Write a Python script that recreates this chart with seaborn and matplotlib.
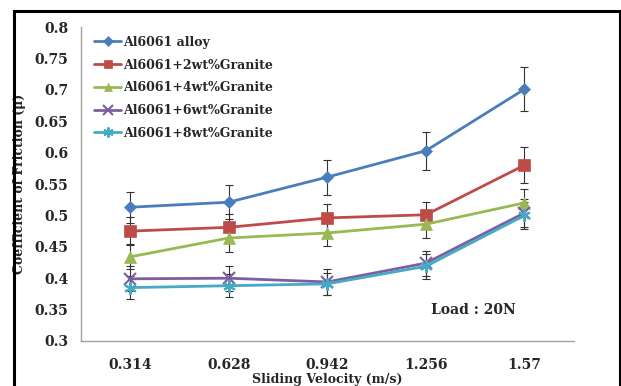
import matplotlib
matplotlib.use("Agg")
import matplotlib.pyplot as plt
import seaborn as sns
import pandas as pd
import numpy as np
from matplotlib.patches import Rectangle

velocities = ["0.314", "0.628", "0.942", "1.256", "1.57"]
series_names = ["Al6061 alloy", "Al6061+2wt%Granite", "Al6061+4wt%Granite",
                "Al6061+6wt%Granite", "Al6061+8wt%Granite"]
alloy = [0.513, 0.521, 0.561, 0.603, 0.701]
g2 = [0.475, 0.481, 0.496, 0.501, 0.580]
g4 = [0.434, 0.464, 0.472, 0.486, 0.520]
g6 = [0.399, 0.400, 0.394, 0.424, 0.504]
g8 = [0.385, 0.388, 0.391, 0.419, 0.500]
err_alloy = [0.025, 0.027, 0.028, 0.030, 0.035]
err_g2 = [0.022, 0.022, 0.022, 0.020, 0.029]
err_g4 = [0.020, 0.022, 0.020, 0.022, 0.022]
err_g6 = [0.020, 0.020, 0.020, 0.020, 0.022]
err_g8 = [0.018, 0.018, 0.018, 0.020, 0.022]

values = [alloy, g2, g4, g6, g8]
errors = [err_alloy, err_g2, err_g4, err_g6, err_g8]
colors = ["#4A7EBB", "#BE4B48", "#98B954", "#7D5FA0", "#46AAC5"]
markers = ["D", "s", "^", "x", (6, 2, 0)]
msizes = [6, 8, 8, 9, 9]

rows = []
for name, vals in zip(series_names, values):
    for i, v in enumerate(vals):
        rows.append({"pos": i, "mu": v, "series": name})
df = pd.DataFrame(rows)

sns.set_style("white")
plt.rcParams["font.family"] = ["DejaVu Serif"]
plt.rcParams["font.weight"] = "bold"

fig = plt.figure(figsize=(6.21, 3.86), dpi=100)
ax = fig.add_axes([0.130, 0.1166, 0.794, 0.8134])

for k, name in enumerate(series_names):
    sub = df[df["series"] == name]
    ax.errorbar(sub["pos"], sub["mu"], yerr=errors[k], fmt="none",
                ecolor="#333333", elinewidth=0.8, capsize=3, capthick=0.8, zorder=2)
    sns.lineplot(data=sub, x="pos", y="mu", ax=ax, color=colors[k],
                 marker=markers[k], markersize=msizes[k], linewidth=2.0,
                 markeredgecolor=colors[k], markeredgewidth=1.5 if k >= 3 else 0.5,
                 label=name, zorder=3)

ax.set_xlim(-0.5, 4.5)
ax.set_ylim(0.3, 0.8)
ax.set_yticks(np.arange(0.3, 0.801, 0.05))
ax.set_yticklabels([f"{t:g}" for t in np.arange(0.3, 0.801, 0.05).round(2)],
                   fontsize=10, fontweight="bold")
ax.set_xticks(range(5))
ax.set_xticklabels(velocities, fontsize=10, fontweight="bold")
ax.set_xticks(np.arange(-0.5, 4.6, 1), minor=True)
ax.tick_params(axis="x", which="major", length=0, pad=12)
ax.tick_params(axis="x", which="minor", length=5, color="#A0A0A0", width=1)
ax.tick_params(axis="y", length=5, color="#A0A0A0", width=1, pad=4)
for s in ["top", "right"]:
    ax.spines[s].set_visible(False)
for s in ["left", "bottom"]:
    ax.spines[s].set_color("#A0A0A0")
    ax.spines[s].set_linewidth(1)

ax.set_xlabel("Sliding Velocity (m/s)", fontsize=9, fontweight="bold", labelpad=1)
ax.set_ylabel("Coefficient of Friction (\u03bc)", fontsize=9, fontweight="bold", labelpad=6)

leg = ax.legend(loc="upper left", bbox_to_anchor=(0.01, 1.0), frameon=False,
                prop={"size": 9, "weight": "bold"}, handlelength=2.1,
                labelspacing=0.78, handletextpad=0.2, borderaxespad=0.3,
                markerscale=0.8)

ax.text(0.71, 0.085, "Load : 20N", transform=ax.transAxes, fontsize=10,
        fontweight="bold")

fig.patches.append(Rectangle((14 / 621, -0.01), (620 - 14) / 621, 1 - 11 / 386 + 0.01,
                             transform=fig.transFigure, fill=False,
                             edgecolor="black", linewidth=2.2))

fig.savefig("out.png", dpi=100)
